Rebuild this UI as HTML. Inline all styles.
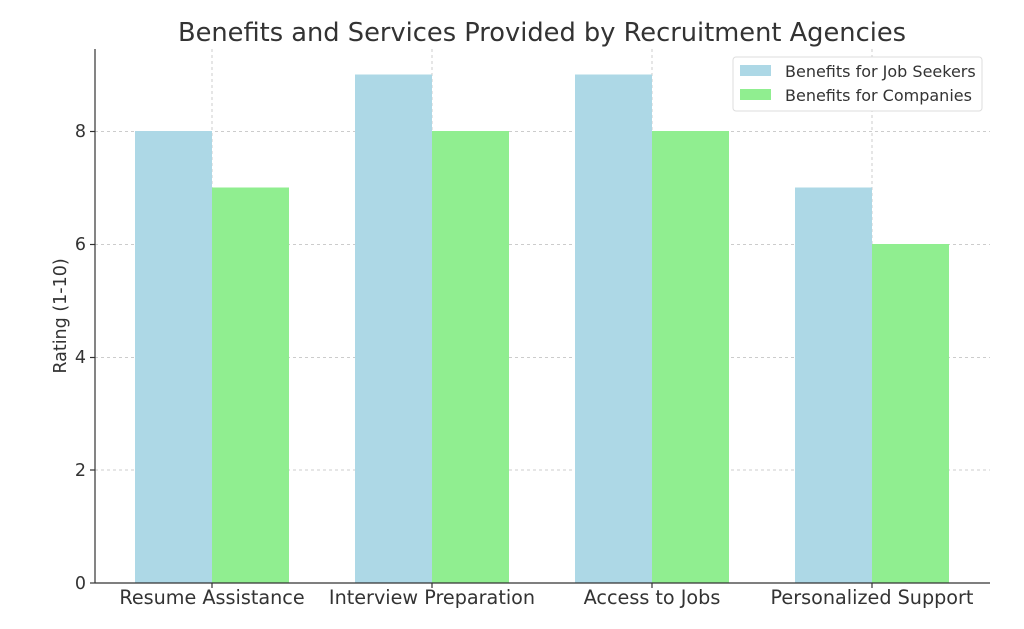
<!DOCTYPE html>
<html><head><style>
body{margin:0;background:#fff;}
svg text{font-family:"DejaVu Sans","Liberation Sans",sans-serif;fill:#333;}
</style></head><body>
<svg width="1024" height="624" xmlns="http://www.w3.org/2000/svg">
<rect width="1024" height="624" fill="#fff"/>
<text x="542" y="41" font-size="25.7" text-anchor="middle">Benefits and Services Provided by Recruitment Agencies</text>
<g stroke="#ccc" stroke-dasharray="3,3" stroke-width="1">
<line x1="95" x2="990" y1="470" y2="470"/>
<line x1="95" x2="990" y1="357.5" y2="357.5"/>
<line x1="95" x2="990" y1="244.5" y2="244.5"/>
<line x1="95" x2="990" y1="131.5" y2="131.5"/>
<line x1="212" x2="212" y1="49" y2="583"/>
<line x1="432" x2="432" y1="49" y2="583"/>
<line x1="652" x2="652" y1="49" y2="583"/>
<line x1="872" x2="872" y1="49" y2="583"/>
</g>
<g fill="#add8e6">
<rect x="135" y="131" width="77" height="452"/>
<rect x="355" y="74.5" width="77" height="508.5"/>
<rect x="575" y="74.5" width="77" height="508.5"/>
<rect x="795" y="187.5" width="77" height="395.5"/>
</g>
<g fill="#90ee90">
<rect x="212" y="187.5" width="77" height="395.5"/>
<rect x="432" y="131" width="77" height="452"/>
<rect x="652" y="131" width="77" height="452"/>
<rect x="872" y="244" width="77" height="339"/>
</g>
<g stroke="#333" stroke-width="1.2">
<line x1="95" x2="95" y1="49" y2="583"/>
<line x1="95" x2="990" y1="583" y2="583"/>
<line x1="90" x2="95" y1="583" y2="583"/>
<line x1="90" x2="95" y1="470" y2="470"/>
<line x1="90" x2="95" y1="357.5" y2="357.5"/>
<line x1="90" x2="95" y1="244.5" y2="244.5"/>
<line x1="90" x2="95" y1="131.5" y2="131.5"/>
<line x1="212" x2="212" y1="583" y2="588"/>
<line x1="432" x2="432" y1="583" y2="588"/>
<line x1="652" x2="652" y1="583" y2="588"/>
<line x1="872" x2="872" y1="583" y2="588"/>
</g>
<g font-size="17.5" text-anchor="end">
<text x="86" y="589">0</text>
<text x="86" y="476">2</text>
<text x="86" y="363">4</text>
<text x="86" y="250">6</text>
<text x="86" y="137">8</text>
</g>
<g font-size="19.2" text-anchor="middle">
<text x="212" y="604">Resume Assistance</text>
<text x="432" y="604">Interview Preparation</text>
<text x="652" y="604">Access to Jobs</text>
<text x="872" y="604">Personalized Support</text>
</g>
<text transform="translate(66,316) rotate(-90)" font-size="17.5" text-anchor="middle">Rating (1-10)</text>
<rect x="733" y="57" width="249" height="54" rx="3" fill="#fff" stroke="#ddd"/>
<rect x="740" y="65" width="31" height="11" fill="#add8e6"/>
<rect x="740" y="89" width="31" height="11" fill="#90ee90"/>
<text x="785" y="77" font-size="16">Benefits for Job Seekers</text>
<text x="785" y="101" font-size="16">Benefits for Companies</text>
</svg>
</body></html>
